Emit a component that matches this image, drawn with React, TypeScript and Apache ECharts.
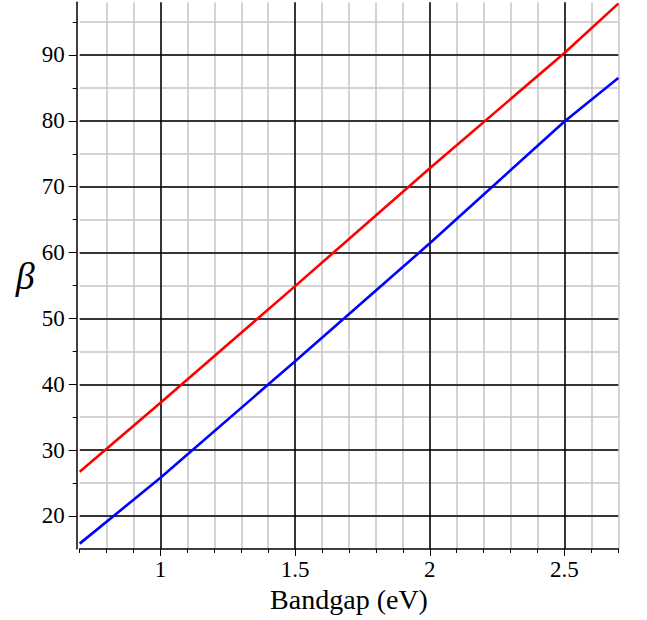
import React, { useEffect, useRef } from 'react';
import * as echarts from 'echarts';

// Data
const bandgap = [0.7, 1.0, 1.5, 2.0, 2.5, 2.7];
const betaRed = [26.7, 37.2, 54.9, 72.8, 90.3, 97.8];
const betaBlue = [15.8, 25.8, 43.5, 61.4, 79.9, 86.5];

const xMajorTicks = [1, 1.5, 2, 2.5];
const yMajorTicks = [20, 30, 40, 50, 60, 70, 80, 90];
const yMinorTicks = [20, 25, 30, 35, 40, 45, 50, 55, 60, 65, 70, 75, 80, 85, 90, 95];

const X_MIN = 0.7;
const X_MAX = 2.7;
const Y_MIN = 15;
const Y_MAX = 98;

const FONT = '"Liberation Serif", "Times New Roman", serif';
const GRAY = '#c4c4c4';

export default function App() {
  const ref = useRef<HTMLDivElement>(null);

  useEffect(() => {
    if (!ref.current) return;
    const chart = echarts.init(ref.current, undefined, { renderer: 'svg' });

    const fmtX = (v: number) => {
      const r = Math.round(v * 10) / 10;
      return xMajorTicks.some((t) => Math.abs(t - r) < 1e-6) ? String(r) : '';
    };
    const fmtY = (v: number) => {
      const r = Math.round(v);
      return yMajorTicks.includes(r) && Math.abs(v - r) < 1e-6 ? String(r) : '';
    };

    chart.setOption({
      animation: false,
      backgroundColor: '#ffffff',
      grid: { left: 79.7, right: 28.7, top: 2.3, bottom: 71.1, containLabel: false },
      xAxis: [
        {
          type: 'value',
          min: X_MIN,
          max: X_MAX,
          interval: 0.1,
          position: 'bottom',
          z: 0,
          axisLine: { show: false },
          axisLabel: { show: false },
          axisTick: { show: true, length: 4, lineStyle: { color: '#000', width: 1 } },
          splitLine: { show: true, showMinLine: false, lineStyle: { color: GRAY, width: 1.5 } },
        },
        {
          type: 'value',
          min: X_MIN,
          max: X_MAX,
          interval: 0.1,
          position: 'bottom',
          z: 1,
          axisLine: { show: true, onZero: false, lineStyle: { color: '#000', width: 1.5 } },
          axisTick: { show: true, length: 7, customValues: xMajorTicks, lineStyle: { color: '#000', width: 1 } },
          axisLabel: {
            show: true,
            customValues: xMajorTicks,
            formatter: fmtX,
            fontSize: 23,
            fontFamily: FONT,
            color: '#000',
            margin: 9,
          },
          splitLine: { show: true, lineStyle: { color: '#000', width: 1.5 } },
          name: 'Bandgap (eV)',
          nameLocation: 'middle',
          nameGap: 33,
          nameTextStyle: { fontSize: 28, fontFamily: FONT, color: '#000' },
        },
      ],
      yAxis: [
        {
          type: 'value',
          min: Y_MIN,
          max: Y_MAX,
          interval: 5,
          position: 'left',
          offset: 3,
          z: 0,
          axisLine: { show: false },
          axisLabel: { show: false },
          axisTick: { show: true, length: 4, customValues: yMinorTicks, lineStyle: { color: '#000', width: 1 } },
          splitLine: { show: true, lineStyle: { color: GRAY, width: 1.5 } },
        },
        {
          type: 'value',
          min: Y_MIN,
          max: Y_MAX,
          interval: 5,
          position: 'left',
          offset: 3,
          z: 1,
          axisLine: { show: true, onZero: false, lineStyle: { color: '#000', width: 1.5 } },
          axisTick: { show: true, length: 8, customValues: yMajorTicks, lineStyle: { color: '#000', width: 1 } },
          axisLabel: {
            show: true,
            customValues: yMajorTicks,
            formatter: fmtY,
            fontSize: 23,
            fontFamily: FONT,
            color: '#000',
            margin: 12,
          },
          splitLine: { show: true, lineStyle: { color: '#000', width: 1.5 } },
          name: 'β',
          nameLocation: 'middle',
          nameRotate: 0,
          nameGap: 42,
          nameTextStyle: {
            fontSize: 38,
            fontStyle: 'italic',
            fontFamily: FONT,
            color: '#000',
            padding: [12, 0, 0, 0],
          },
        },
      ],
      series: [
        {
          type: 'line',
          xAxisIndex: 1,
          yAxisIndex: 1,
          data: bandgap.map((x, i) => [x, betaRed[i]]),
          showSymbol: false,
          symbol: 'none',
          z: 5,
          lineStyle: { color: '#ff0000', width: 2.6 },
          itemStyle: { color: '#ff0000' },
        },
        {
          type: 'line',
          xAxisIndex: 1,
          yAxisIndex: 1,
          data: bandgap.map((x, i) => [x, betaBlue[i]]),
          showSymbol: false,
          symbol: 'none',
          z: 5,
          lineStyle: { color: '#0000ff', width: 2.6 },
          itemStyle: { color: '#0000ff' },
        },
      ],
    });

    return () => {
      chart.dispose();
    };
  }, []);

  return (
    <div
      ref={ref}
      style={{ position: 'fixed', left: 0, top: 0, width: 647, height: 620, background: '#fff' }}
    />
  );
}
